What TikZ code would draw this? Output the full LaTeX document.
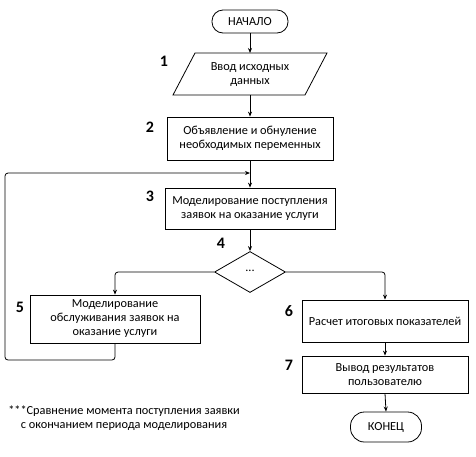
\documentclass[tikz,border=0pt]{standalone}
\usepackage{fontspec}
\setmainfont{Carlito}
\usetikzlibrary{shapes.geometric,arrows.meta}
\begin{document}
\begin{tikzpicture}[x=1pt,y=-1pt,
  line width=0.8pt,
  txt/.style={font=\fontsize{12.3}{14}\selectfont, align=center},
  boxnode/.style={draw, rectangle, txt, inner sep=0pt},
  term/.style={draw, rectangle, rounded corners=11pt, txt, inner sep=0pt},
  num/.style={font=\fontsize{16}{16}\selectfont\bfseries},
  arr/.style={-{Stealth[length=5pt,width=4pt]}},
  link/.style={draw, line width=0.8pt}
]
\useasboundingbox (0,0) rectangle (476,456);

% nodes
\node[term, minimum width=76pt, minimum height=23pt] (start) at (250,21.5) {НАЧАЛО};

\coordinate (inTL) at (195,53);
\coordinate (inTR) at (327,53);
\coordinate (inBR) at (305,95);
\coordinate (inBL) at (173,95);
\coordinate (inTop) at (250,53);
\coordinate (inBot) at (250,95);
\draw (inTL) -- (inTR) -- (inBR) -- (inBL) -- cycle;
\node[txt] (in) at (250,75) {Ввод исходных\\данных};

\node[boxnode, minimum width=166pt, minimum height=43pt] (b2) at (250,138.5) {Объявление и обнуление\\необходимых переменных};
\node[boxnode, minimum width=170pt, minimum height=41pt] (b3) at (250,208.5) {Моделирование поступления\\заявок на оказание услуги};
\node[draw, diamond, minimum width=71pt, minimum height=41pt, inner sep=0pt, txt] (d4) at (250,272) {\raisebox{2pt}{...}};
\node[boxnode, minimum width=170pt, minimum height=48pt] (b5) at (115,319) {Моделирование\\обслуживания заявок на\\оказание услуги};
\node[boxnode, minimum width=166pt, minimum height=42pt] (b6) at (385,321) {Расчет итоговых показателей};
\node[boxnode, minimum width=166pt, minimum height=37pt] (b7) at (385,374.5) {Вывод результатов\\пользователю};
\node[term, minimum width=71pt, minimum height=30pt, rounded corners=14pt] (end) at (386,427) {КОНЕЦ};

\node[txt] (note) at (124,418) {***Сравнение момента поступления заявки\\с окончанием периода моделирования};

% numbers
\node[num] (n1) at (164,61) {1};
\node[num] (n2) at (150,127) {2};
\node[num] (n3) at (150,196) {3};
\node[num] (n4) at (221,243) {4};
\node[num] (n5) at (20,307) {5};
\node[num] (n6) at (289,311) {6};
\node[num] (n7) at (289,365) {7};

% connectors
\coordinate (merge) at (250,173);
\coordinate (fbA) at (115,360);
\coordinate (fbB) at (5,360);
\coordinate (fbC) at (5,173);
\draw[arr] (start.south) -- (inTop);
\draw[arr] (inBot) -- (b2.north);
\draw[arr] (b2.south) -- (b3.north);
\draw[arr, rounded corners=3pt] (b5.south) -- (fbA) -- (fbB) -- (fbC) -- (merge);
\draw[arr] (b3.south) -- (d4.north);
\draw[arr, rounded corners=3pt] (d4.west) -| (b5.north);
\draw[arr, rounded corners=3pt] (d4.east) -| (b6.north);
\draw[arr] (b6.south) -- (b7.north);
\draw[arr] (b7.south) -- (end.north);
\end{tikzpicture}
\end{document}
